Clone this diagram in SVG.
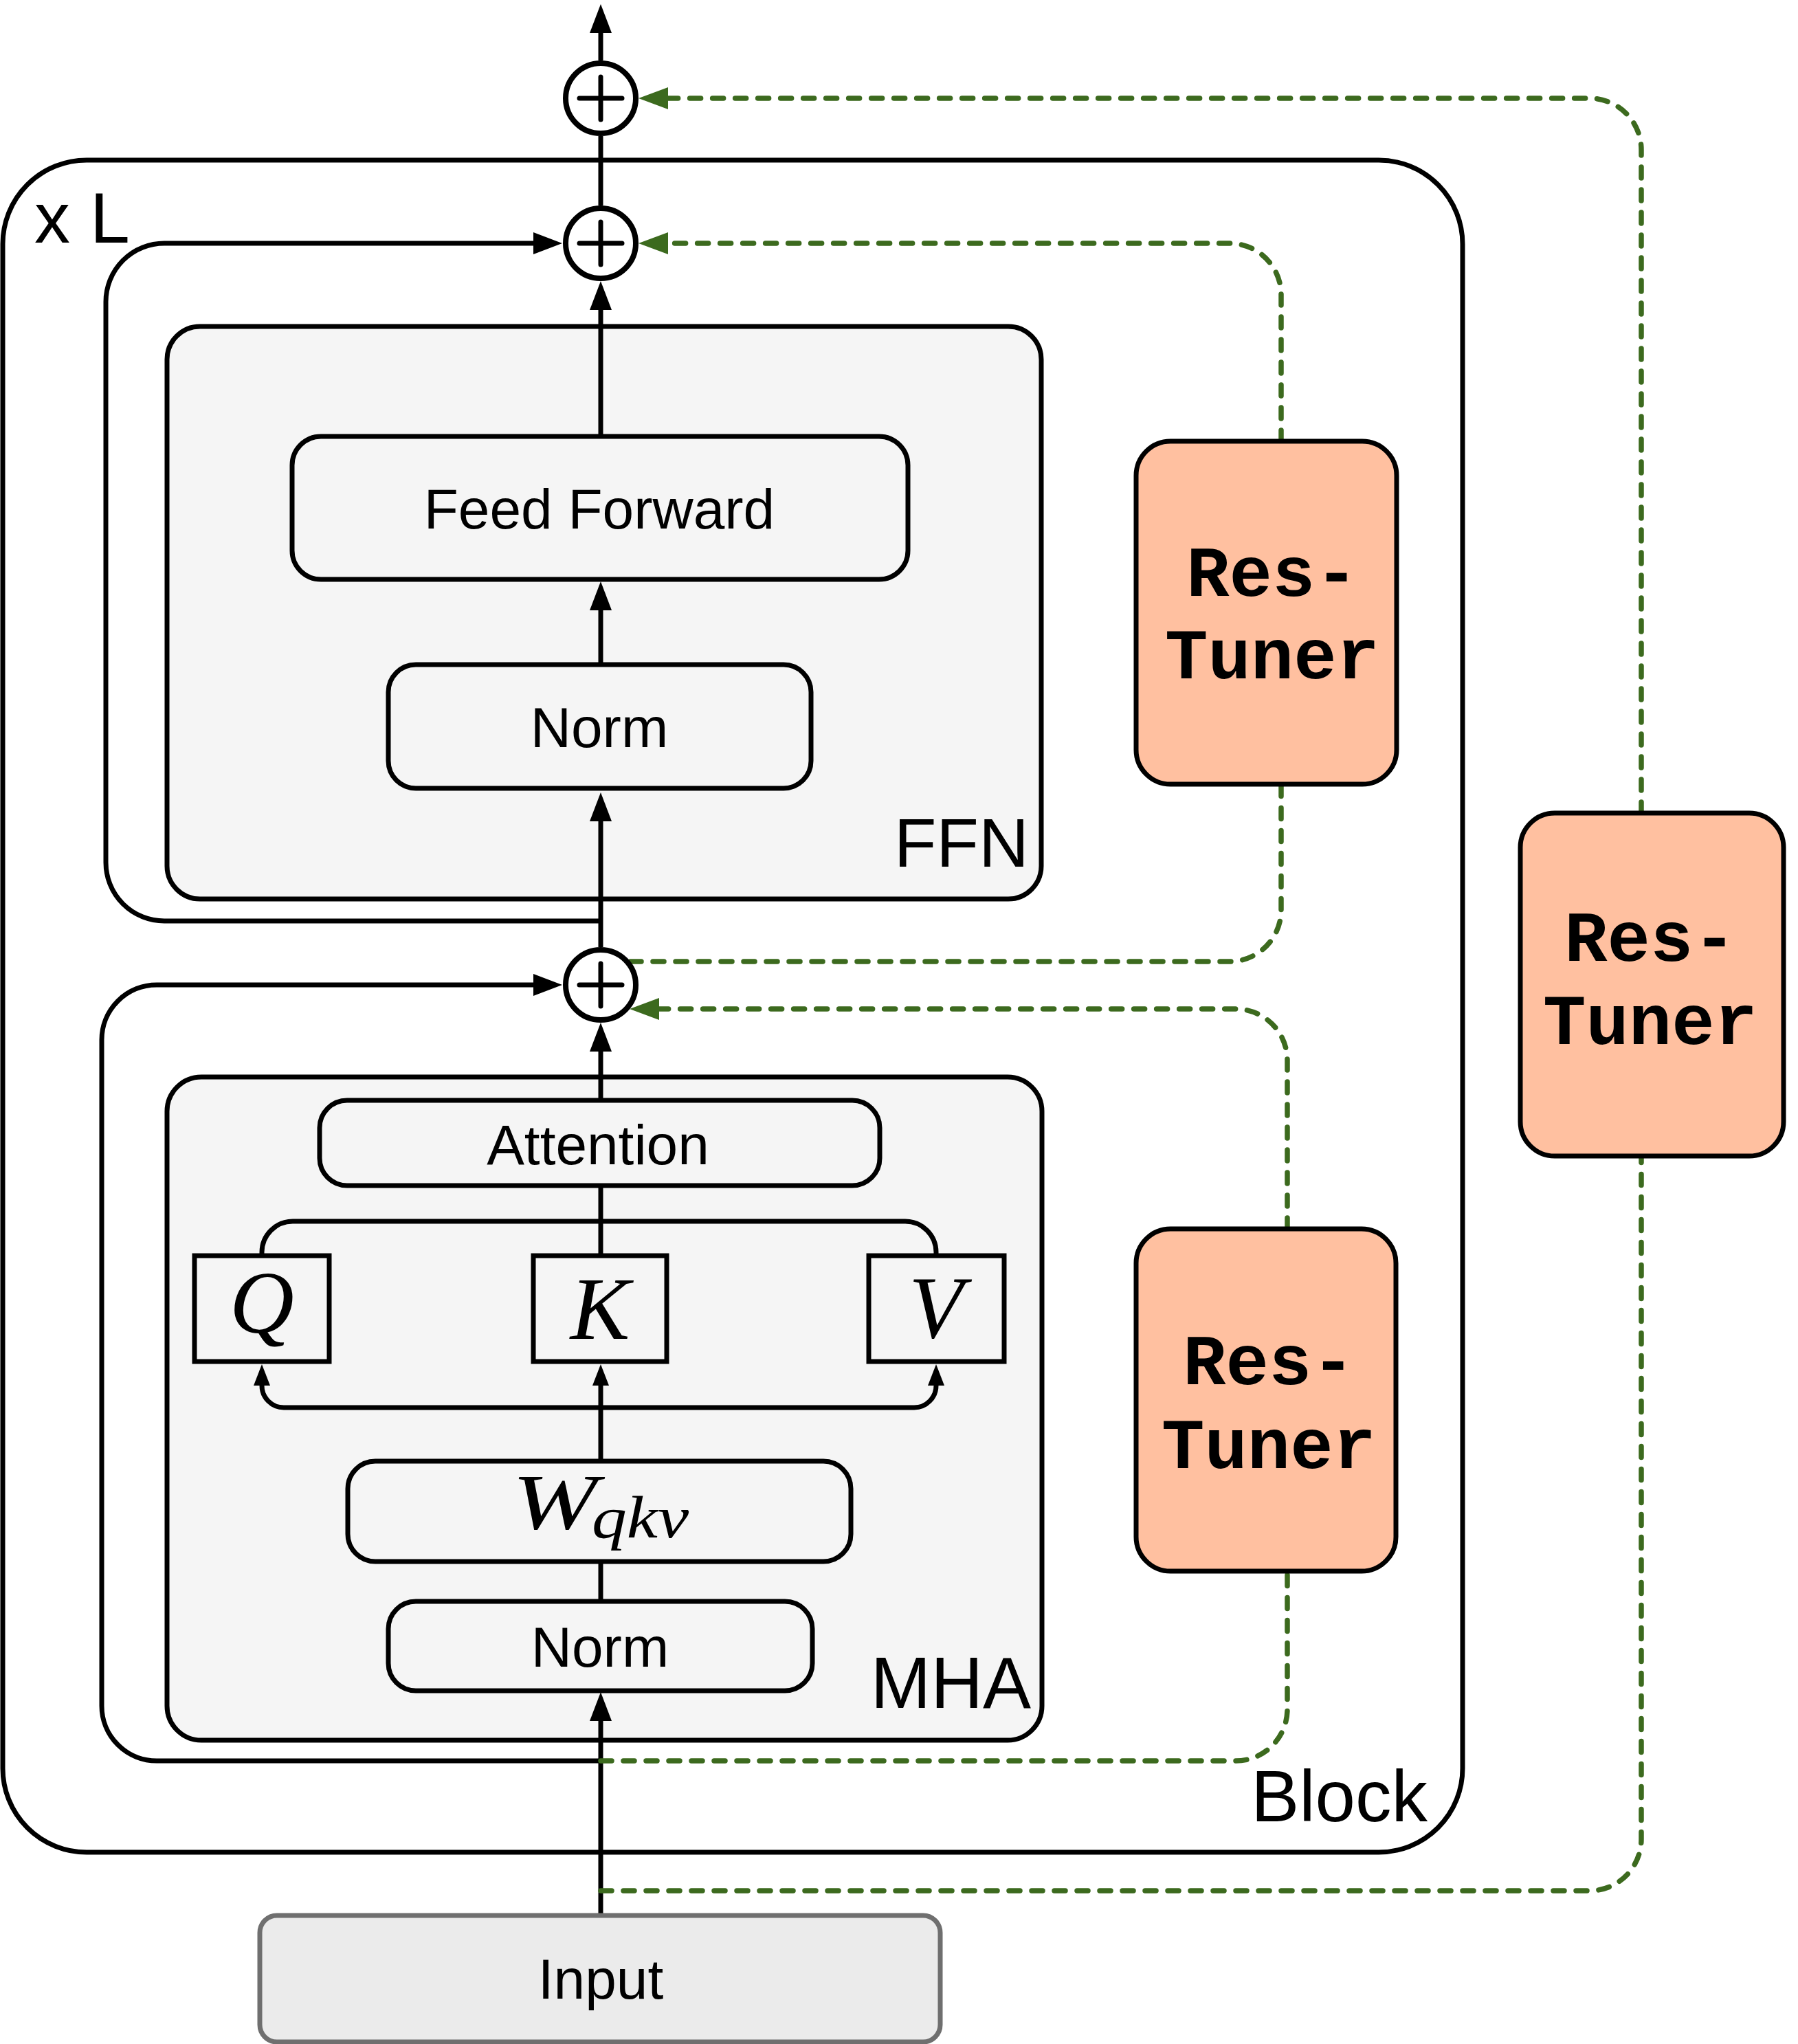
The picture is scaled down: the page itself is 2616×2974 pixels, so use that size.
<svg xmlns="http://www.w3.org/2000/svg" width="2616" height="2974" viewBox="0 0 2616 2974">
<style>
.lbl{font-family:"Liberation Sans",Arial,sans-serif;fill:#000}
.mid{text-anchor:middle}
.end{text-anchor:end}
.box{fill:#f5f5f5;stroke:#000;stroke-width:7}
.cont{fill:#f5f5f5;stroke:#000;stroke-width:7}
.tuner{fill:#ffc0a0;stroke:#000;stroke-width:7}
.tt{font-family:"Liberation Mono","Courier New",monospace;font-weight:bold;font-size:104px;text-anchor:middle;fill:#000}
.math{font-family:"Liberation Serif","Times New Roman",serif;font-style:italic;fill:#000}
.ln{fill:none;stroke:#000;stroke-width:7}
.gd{fill:none;stroke:#3c6a1e;stroke-width:7.5;stroke-dasharray:16 17;stroke-linecap:round}
.plus{fill:#fff;stroke:#000;stroke-width:8}
.pl{stroke:#000;stroke-width:7;stroke-linecap:round}
</style>
<defs>
<marker id="ab" viewBox="0 0 42 32" refX="0" refY="16" markerWidth="42" markerHeight="32" markerUnits="userSpaceOnUse" orient="auto"><path d="M0,0 L42,16 L0,32 z" fill="#000"/></marker>
<marker id="as" viewBox="0 0 31 24" refX="0" refY="12" markerWidth="31" markerHeight="24" markerUnits="userSpaceOnUse" orient="auto"><path d="M0,0 L31,12 L0,24 z" fill="#000"/></marker>
<marker id="ag" viewBox="0 0 43 32" refX="0" refY="16" markerWidth="43" markerHeight="32" markerUnits="userSpaceOnUse" orient="auto"><path d="M0,0 L43,16 L0,32 z" fill="#3c6a1e"/></marker>
</defs>
<rect width="2616" height="2974" fill="#fff"/>

<g id="block">
<rect x="4" y="233" width="2124" height="2462" rx="122" ry="122" fill="#fff" stroke="#000" stroke-width="7"/>
<text class="lbl" x="50" y="353" font-size="104">x L</text>
<text class="lbl end" x="2077" y="2650" font-size="105">Block</text>
</g>

<g id="ffn">
<rect class="cont" x="243" y="475" width="1272" height="833" rx="48"/>
<text class="lbl end" x="1497" y="1261" font-size="101">FFN</text>
</g>

<g id="mha">
<rect class="cont" x="243" y="1567" width="1273" height="965" rx="50"/>
<text class="lbl end" x="1500" y="2485" font-size="105">MHA</text>
</g>

<g id="connectors">
<path class="ln" d="M874,2787 L874,2504" marker-end="url(#ab)"/>
<path class="ln" d="M874,2330 L874,2272"/>
<path class="ln" d="M874,2126 L874,2016" marker-end="url(#as)"/>
<path class="ln" d="M874,1827 L874,1725"/>
<path class="ln" d="M874,1601 L874,1530" marker-end="url(#ab)"/>
<path class="ln" d="M874,1378 L874,1195" marker-end="url(#ab)"/>
<path class="ln" d="M874,967 L874,888" marker-end="url(#ab)"/>
<path class="ln" d="M874,635 L874,451" marker-end="url(#ab)"/>
<path class="ln" d="M874,299 L874,198"/>
<path class="ln" d="M874,88 L874,48" marker-end="url(#ab)"/>
<path class="ln" d="M874,1340 L239,1340 A85,85 0 0 1 154,1255 L154,439 A85,85 0 0 1 239,354 L776,354" marker-end="url(#ab)"/>
<path class="ln" d="M874,2562 L228,2562 A80,80 0 0 1 148,2482 L148,1513 A80,80 0 0 1 228,1433 L776,1433" marker-end="url(#ab)"/>
<path class="ln" d="M381,1827 L381,1822 A45,45 0 0 1 426,1777 L1317,1777 A45,45 0 0 1 1362,1822 L1362,1827"/>
<path class="ln" d="M874,2048 L413,2048 A32,32 0 0 1 381,2016" marker-end="url(#as)"/>
<path class="ln" d="M874,2048 L1330,2048 A32,32 0 0 0 1362,2016" marker-end="url(#as)"/>
<path class="gd" d="M874,2751 L2313,2751 A75,75 0 0 0 2388,2676 L2388,1682"/>
<path class="gd" d="M2388,1183 L2388,218 A75,75 0 0 0 2313,143 L972,143" marker-end="url(#ag)"/>
<path class="gd" d="M917,1399 L1789,1399 A75,75 0 0 0 1864,1324 L1864,1141"/>
<path class="gd" d="M1864,642 L1864,429 A75,75 0 0 0 1789,354 L972,354" marker-end="url(#ag)"/>
<path class="gd" d="M874,2562 L1798,2562 A75,75 0 0 0 1873,2487 L1873,2286"/>
<path class="gd" d="M1873,1788 L1873,1543 A75,75 0 0 0 1798,1468 L959,1468" marker-end="url(#ag)"/>
</g>

<g id="feedforward">
<rect class="box" x="425" y="635" width="896" height="208" rx="42"/>
<text class="lbl mid" x="872" y="769" font-size="82">Feed Forward</text>
</g>
<g id="norm-ffn">
<rect class="box" x="565" y="967" width="615" height="180" rx="40"/>
<text class="lbl mid" x="872" y="1087" font-size="82">Norm</text>
</g>
<g id="attention">
<rect class="box" x="465" y="1601" width="815" height="124" rx="40"/>
<text class="lbl mid" x="870" y="1694" font-size="82">Attention</text>
</g>
<g id="q">
<rect x="283" y="1827" width="196" height="154" fill="#f5f5f5" stroke="#000" stroke-width="7"/>
<text class="math mid" x="381" y="1939" font-size="130">Q</text>
</g>
<g id="k">
<rect x="776" y="1827" width="194" height="154" fill="#f5f5f5" stroke="#000" stroke-width="7"/>
<text class="math mid" x="873" y="1948" font-size="130">K</text>
</g>
<g id="v">
<rect x="1264" y="1827" width="197" height="154" fill="#f5f5f5" stroke="#000" stroke-width="7"/>
<text class="math mid" x="1362" y="1946" font-size="130">V</text>
</g>
<g id="wqkv">
<rect class="box" x="506" y="2126" width="732" height="146" rx="40"/>
<text class="math" x="745" y="2224" font-size="114" textLength="124" lengthAdjust="spacingAndGlyphs">W</text>
<text class="math" x="861" y="2237" font-size="86" textLength="141" lengthAdjust="spacingAndGlyphs">qkv</text>
</g>
<g id="norm-mha">
<rect class="box" x="565" y="2330" width="617" height="130" rx="40"/>
<text class="lbl mid" x="873" y="2425" font-size="82">Norm</text>
</g>
<g id="input">
<rect x="378" y="2787" width="990" height="184" rx="25" fill="#ebebeb" stroke="#6f6f6f" stroke-width="7"/>
<text class="lbl mid" x="874" y="2908" font-size="82">Input</text>
</g>

<g id="restuner-ffn">
<rect class="tuner" x="1653" y="642" width="379" height="499" rx="50"/>
<text class="tt" x="1851" y="867">Res-</text>
<text class="tt" x="1851" y="987">Tuner</text>
</g>
<g id="restuner-mha">
<rect class="tuner" x="1653" y="1788" width="378" height="498" rx="50"/>
<text class="tt" x="1846" y="2014">Res-</text>
<text class="tt" x="1846" y="2136">Tuner</text>
</g>
<g id="restuner-outer">
<rect class="tuner" x="2212" y="1183" width="383" height="499" rx="50"/>
<text class="tt" x="2401" y="1398">Res-</text>
<text class="tt" x="2401" y="1519">Tuner</text>
</g>

<g id="add-top">
<circle class="plus" cx="874" cy="143" r="51"/>
<line class="pl" x1="843" y1="143" x2="905" y2="143"/>
<line class="pl" x1="874" y1="112" x2="874" y2="174"/>
</g>
<g id="add-ffn">
<circle class="plus" cx="874" cy="354" r="51"/>
<line class="pl" x1="843" y1="354" x2="905" y2="354"/>
<line class="pl" x1="874" y1="323" x2="874" y2="385"/>
</g>
<g id="add-mha">
<circle class="plus" cx="874" cy="1433" r="51"/>
<line class="pl" x1="843" y1="1433" x2="905" y2="1433"/>
<line class="pl" x1="874" y1="1402" x2="874" y2="1464"/>
</g>
</svg>
